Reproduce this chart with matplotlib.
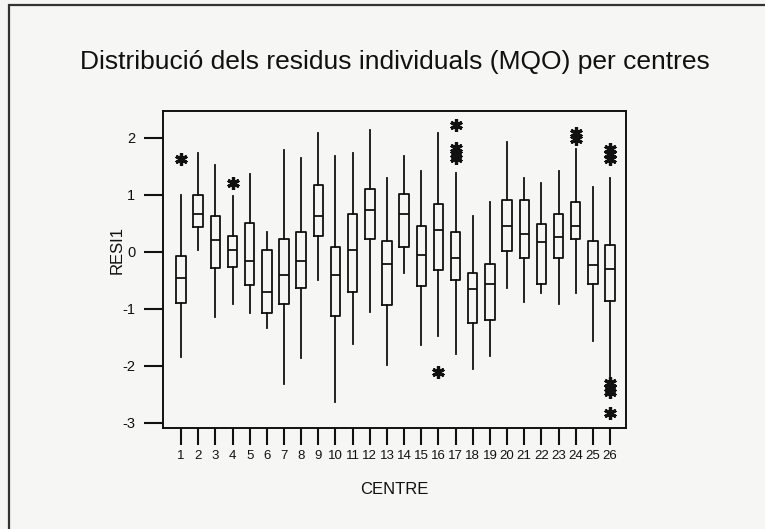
import matplotlib.pyplot as plt
from matplotlib.patches import Rectangle

# Residus per centre (llegits de la figura)
centres = list(range(1, 27))
q1 = [-0.89, 0.43, -0.28, -0.27, -0.58, -1.08, -0.91, -0.63, 0.27, -1.12, -0.70, 0.22, -0.94,
      0.09, -0.60, -0.31, -0.50, -1.25, -1.19, 0.01, -0.11, -0.56, -0.11, 0.23, -0.56, -0.86]
med = [-0.46, 0.67, 0.20, 0.03, -0.16, -0.70, -0.40, -0.16, 0.63, -0.41, 0.04, 0.73, -0.22,
       0.67, -0.06, 0.38, -0.11, -0.66, -0.56, 0.46, 0.32, 0.18, 0.26, 0.46, -0.23, -0.30]
q3 = [-0.08, 1.00, 0.63, 0.27, 0.50, 0.03, 0.22, 0.35, 1.17, 0.09, 0.66, 1.11, 0.19,
      1.01, 0.46, 0.84, 0.35, -0.38, -0.22, 0.91, 0.91, 0.49, 0.67, 0.88, 0.19, 0.12]
whis_lo = [-1.85, 0.03, -1.15, -0.92, -1.08, -1.33, -2.31, -1.86, -0.50, -2.63, -1.61, -1.06, -1.99,
           -0.38, -1.64, -1.47, -1.80, -2.06, -1.83, -0.64, -0.88, -0.73, -0.92, -0.73, -1.56, -2.22]
whis_hi = [1.00, 1.74, 1.52, 0.98, 1.37, 0.35, 1.78, 1.65, 2.09, 1.68, 1.73, 2.13, 1.30,
           1.68, 1.42, 2.08, 1.39, 0.63, 0.88, 1.93, 1.30, 1.21, 1.42, 1.80, 1.13, 1.30]
outliers = {1: [1.62], 4: [1.20], 16: [-2.11], 17: [2.22, 1.82, 1.72, 1.64],
            24: [2.08, 1.98], 26: [1.80, 1.72, 1.62, -2.30, -2.38, -2.46, -2.82]}

bg = '#f6f6f5'
fig = plt.figure(figsize=(7.65, 5.29), dpi=100, facecolor=bg)
plt.rcParams['font.family'] = ['Liberation Sans', 'DejaVu Sans']

# marc exterior (tallat a la dreta i a baix)
fig.patches.append(Rectangle((9 / 765, -0.05), 1.2, 1.05 - 5 / 529,
                             transform=fig.transFigure, facecolor='none',
                             edgecolor='#333333', linewidth=1.6))

fig.text(0.516, 0.883, 'Distribució dels residus individuals (MQO) per centres',
         ha='center', va='center', fontsize=19, color='#111111')

ax = fig.add_axes([163 / 765, 1 - 428 / 529, (626 - 163) / 765, (428 - 111) / 529])
ax.set_facecolor(bg)

stats = []
for i, c in enumerate(centres):
    stats.append({'med': med[i], 'q1': q1[i], 'q3': q3[i],
                  'whislo': whis_lo[i], 'whishi': whis_hi[i],
                  'fliers': outliers.get(c, [])})

line = dict(color='#111111', linewidth=1.3)
ax.bxp(stats, positions=centres, widths=0.55, showcaps=False,
       boxprops=line, medianprops=line, whiskerprops=line,
       flierprops=dict(marker=(6, 2, 0), markersize=9, markeredgewidth=2.3,
                       markeredgecolor='#111111', markerfacecolor='#111111', linestyle='none'))

ax.set_xlim(-0.05, 26.93)
ax.set_ylim(-3.09, 2.47)
ax.set_yticks([-3, -2, -1, 0, 1, 2])
ax.set_yticklabels(['-3', '-2', '-1', '0', '1', '2'])
ax.set_xticks(centres)
ax.set_xticklabels([str(c) for c in centres])
for s in ax.spines.values():
    s.set_color('#111111')
    s.set_linewidth(1.4)
ax.tick_params(axis='y', length=14, width=1.5, pad=6, labelsize=10.5, colors='#111111')
ax.tick_params(axis='x', length=12, width=1.5, pad=4, labelsize=9.5, colors='#111111')

ax.set_ylabel('RESI1', fontsize=12, color='#111111')
ax.yaxis.set_label_coords(-0.083, 0.56)
ax.set_xlabel('CENTRE', fontsize=12, color='#111111')
ax.xaxis.set_label_coords(0.5, -0.17)

plt.savefig('out.png', dpi=100, facecolor=bg)
